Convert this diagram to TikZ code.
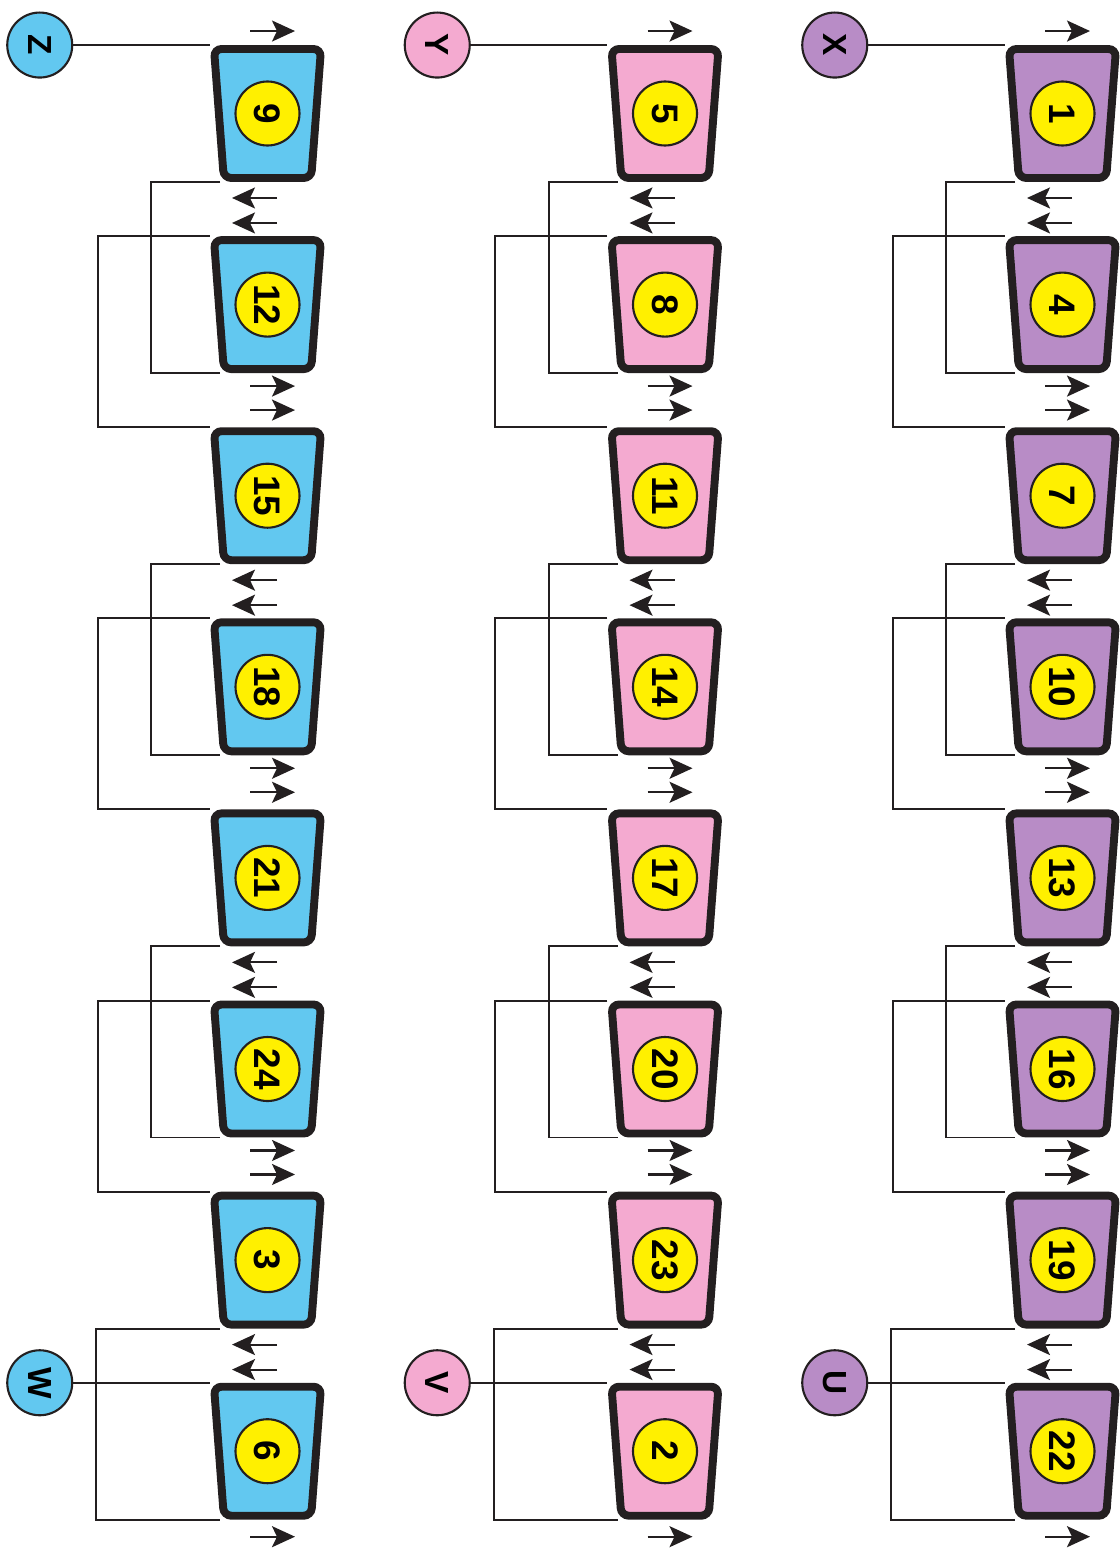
\documentclass[tikz,border=0pt]{standalone}
\usepackage{fontspec}
\setmainfont{Liberation Sans}
\usepackage{xcolor}
\usepackage{tikz}
\usetikzlibrary{arrows.meta,positioning,shapes.geometric,calc}
\definecolor{bluecell}{HTML}{62C8F0}
\definecolor{pinkcell}{HTML}{F4AAD0}
\definecolor{purplecell}{HTML}{B88CC6}
\definecolor{yellowdisc}{HTML}{FFF000}
\definecolor{inkline}{HTML}{231F20}
\tikzset{
  cellbox/.style={
    trapezium, trapezium stretches=true,
    trapezium left angle=91.6, trapezium right angle=91.6,
    minimum width=2.14cm, minimum height=2.58cm, inner sep=2pt,
    draw=inkline, line width=4.5pt, rounded corners=1.5mm, fill=#1
  },
  cellbox/.default=bluecell,
  numdisc/.style={
    circle, draw=inkline, line width=1.2pt, fill=yellowdisc,
    minimum size=1.28cm, inner sep=0pt, rotate=-90,
    font=\fontsize{21}{21}\selectfont\bfseries
  },
  portdisc/.style={
    circle, draw=inkline, line width=1.2pt, fill=#1,
    minimum size=1.3cm, inner sep=0pt, rotate=-90,
    font=\fontsize{19}{19}\selectfont\bfseries
  },
  wire/.style={draw=inkline, line width=1.1pt},
  flowarrow/.style={-{Stealth[length=4.6mm, width=4.2mm, inset=1mm]}, draw=inkline, line width=1.2pt}
}

\begin{document}
\begin{tikzpicture}
\useasboundingbox (0,0) rectangle (22.4,-31);

\foreach \col/\clr/\up/\down/\nums in {0/bluecell/Z/W/{9,12,15,18,21,24,3,6},
    1/pinkcell/Y/V/{5,8,11,14,17,20,23,2},
    2/purplecell/X/U/{1,4,7,10,13,16,19,22}} {
  % cells of one column
  \foreach \n [count=\r from 0] in \nums {
    \node[cellbox=\clr] (cell-\col-\r) at ({5.35+7.95*\col}, {-2.27-3.822*\r}) {\strut};
    \node[numdisc] (num-\col-\r) at (cell-\col-\r) {\n};
  }
  \node[portdisc=\clr] (port-\col-top) at ([xshift=-3.4cm]cell-\col-0.top left corner) {\up};
  \node[portdisc=\clr] (port-\col-bot) at ([xshift=-3.4cm]cell-\col-7.top left corner) {\down};
  \draw[wire] (port-\col-top) -- (cell-\col-0.top left corner);
  \draw[wire] (port-\col-bot) -- (cell-\col-7.top left corner);

  % loops between neighbouring cells
  \foreach \r/\s in {0/1,2/3,4/5}
    \draw[wire] (cell-\col-\r.bottom left corner) -- ++(-1.38,0) |- (cell-\col-\s.bottom left corner);
  \foreach \r/\s in {1/2,3/4,5/6}
    \draw[wire] (cell-\col-\r.top left corner) -- ++(-2.24,0) |- (cell-\col-\s.top left corner);
  \draw[wire] (cell-\col-6.bottom left corner) -- ++(-2.48,0) |- (cell-\col-7.bottom left corner);

  % direction marks
  \draw[flowarrow] ([shift={(-0.35,0.28)}]cell-\col-0.north) -- ++(0.9,0);
  \draw[flowarrow] ([shift={(-0.35,-0.34)}]cell-\col-7.south) -- ++(0.9,0);
  \foreach \r in {0,2,4,6}
    \foreach \dy in {0.32,0.82}
      \draw[flowarrow] ([shift={(0.19,-\dy)}]cell-\col-\r.south) -- ++(-0.9,0);
  \foreach \r in {1,3,5}
    \foreach \dy in {0.26,0.74}
      \draw[flowarrow] ([shift={(-0.35,-\dy)}]cell-\col-\r.south) -- ++(0.9,0);
}
\end{tikzpicture}
\end{document}
